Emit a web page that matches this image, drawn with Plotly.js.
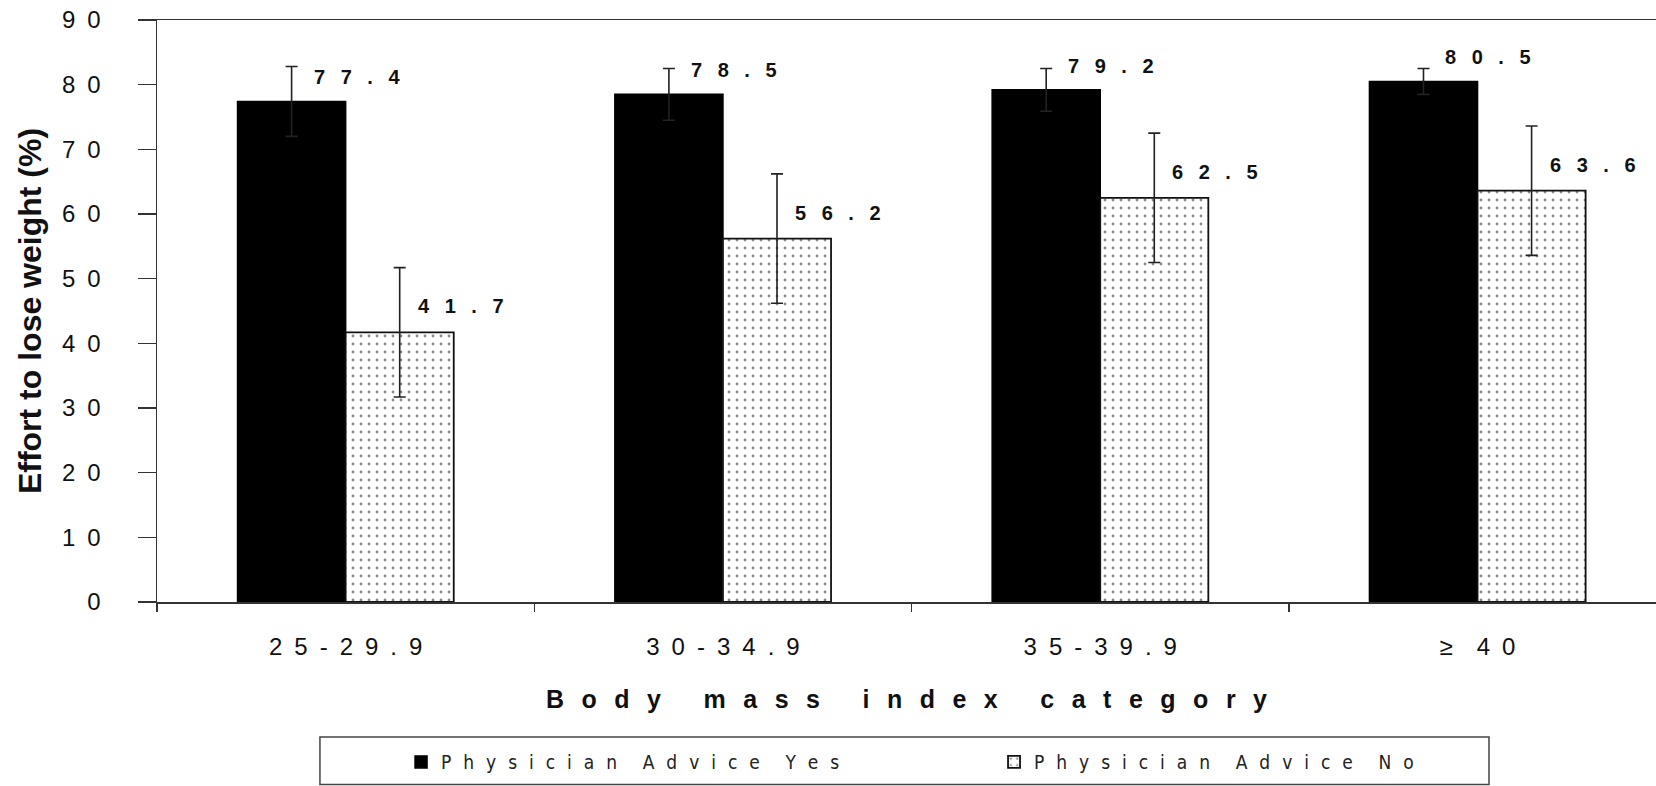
<!DOCTYPE html>
<html><head><meta charset="utf-8">
<script src="https://cdn.plot.ly/plotly-3.0.1.min.js"></script>
<style>html,body{margin:0;padding:0;background:#fff;} #chart{width:1656px;height:786px;}</style>
</head><body><div id="chart"></div>
<script>
// ---- data ----
const categories = ['25-29.9', '30-34.9', '35-39.9', '≥ 40'];
const seriesNames = ['Physician Advice Yes', 'Physician Advice No'];
const adviceYes = [77.4, 78.5, 79.2, 80.5];
const adviceYesErr = [5.4, 4.0, 3.3, 2.0];
const adviceNo = [41.7, 56.2, 62.5, 63.6];
const adviceNoErr = [10.0, 10.0, 10.0, 10.0];
const yTickValues = [0, 10, 20, 30, 40, 50, 60, 70, 80, 90];
const xTitleText = 'Body mass index category';
const yTitleText = 'Effort to lose weight (%)';

// letter-spaced text like the original typesetting
function track(str, sep, wordSep) {
  return str.split(' ').map(w => Array.from(w).join(sep)).join(wordSep);
}
const NB = '\u00a0', EN = '\u2002', TH = '\u2009';

const xLabels = categories.map(c => track(c, EN, EN + EN));
const yLabels = yTickValues.map(v => track(String(v), EN, EN));

const bargap = 0.427;
const half = (1 - bargap) / 4;

const fontMain = 'Liberation Sans, Arial, sans-serif';
const fontNarrow = 'Liberation Sans Narrow, Arial Narrow, DejaVu Sans Condensed, Liberation Sans, sans-serif';
const ink = '#111';

const traces = [
  {
    type: 'bar', name: track(seriesNames[0], EN + TH, EN + EN + EN),
    legend: 'legend',
    x: xLabels, y: adviceYes,
    marker: { color: '#000', line: { color: '#000', width: 1.5 } },
    error_y: { type: 'data', array: adviceYesErr, visible: true, color: '#222', thickness: 1.6, width: 6 },
    hoverinfo: 'y'
  },
  {
    type: 'bar', name: track(seriesNames[1], EN + TH, EN + EN + EN),
    legend: 'legend2',
    x: xLabels, y: adviceNo,
    marker: {
      color: '#fff',
      line: { color: '#111', width: 1.8 },
      pattern: { shape: '.', fgcolor: '#8a8a8a', bgcolor: '#fff', size: 8, solidity: 0.1 }
    },
    error_y: { type: 'data', array: adviceNoErr, visible: true, color: '#222', thickness: 1.6, width: 6 },
    hoverinfo: 'y'
  }
];

const annotations = [];
adviceYes.forEach((v, i) => annotations.push({
  x: i - half, y: v, xref: 'x', yref: 'y', xanchor: 'left', yanchor: 'middle',
  xshift: 20, yshift: 24, showarrow: false,
  text: track(v.toFixed(1), NB + EN, EN),
  font: { family: fontMain, size: 20, color: ink, weight: 'bold' }
}));
adviceNo.forEach((v, i) => annotations.push({
  x: i + half, y: v, xref: 'x', yref: 'y', xanchor: 'left', yanchor: 'middle',
  xshift: 16, yshift: 26, showarrow: false,
  text: track(v.toFixed(1), NB + EN, EN),
  font: { family: fontMain, size: 20, color: ink, weight: 'bold' }
}));

const legendCommon = {
  orientation: 'h', xanchor: 'left', y: -0.275, yanchor: 'middle',
  bgcolor: 'rgba(0,0,0,0)', borderwidth: 0,
  font: { family: fontNarrow, size: 19, color: '#222' }
};

const layout = {
  width: 1656, height: 786,
  margin: { l: 157, r: 0, t: 20, b: 184, autoexpand: false },
  paper_bgcolor: '#fff', plot_bgcolor: '#fff',
  barmode: 'group', bargap: bargap, bargroupgap: 0,
  showlegend: true,
  legend: Object.assign({ x: 0.1628 }, legendCommon),
  legend2: Object.assign({ x: 0.5584 }, legendCommon),
  xaxis: {
    type: 'category', range: [-0.5, 3.473], fixedrange: true, automargin: false,
    showline: true, linecolor: '#333', linewidth: 1.5, mirror: true,
    ticks: 'outside', tickson: 'boundaries', ticklen: 8, tickwidth: 1.5, tickcolor: '#333',
    showgrid: false, zeroline: false,
    tickfont: { family: fontMain, size: 24, color: ink },
    ticklabelstandoff: 23,
    title: {
      text: track(xTitleText, EN + TH, EN + EN + EN + TH),
      font: { family: fontMain, size: 25, color: ink, weight: 'bold' },
      standoff: 31
    }
  },
  yaxis: {
    range: [0, 90], fixedrange: true, automargin: false,
    tickmode: 'array', tickvals: yTickValues, ticktext: yLabels,
    showline: true, linecolor: '#333', linewidth: 1.5, mirror: false,
    ticks: 'outside', ticklen: 18, tickwidth: 1.5, tickcolor: '#333',
    showgrid: false, zeroline: false,
    tickfont: { family: fontMain, size: 24, color: ink },
    ticklabelstandoff: 32,
    title: {
      text: yTitleText,
      font: { family: fontMain, size: 32, color: ink, weight: 'bold' },
      standoff: 11
    }
  },
  shapes: [{
    type: 'rect', xref: 'paper', yref: 'paper',
    x0: 0.1087, x1: 0.8886, y0: -0.232, y1: -0.3135,
    line: { color: '#444', width: 1.5 }, fillcolor: 'rgba(0,0,0,0)'
  }],
  annotations: annotations
};

Plotly.newPlot('chart', traces, layout, { displayModeBar: false, staticPlot: true });
</script>
</body></html>
